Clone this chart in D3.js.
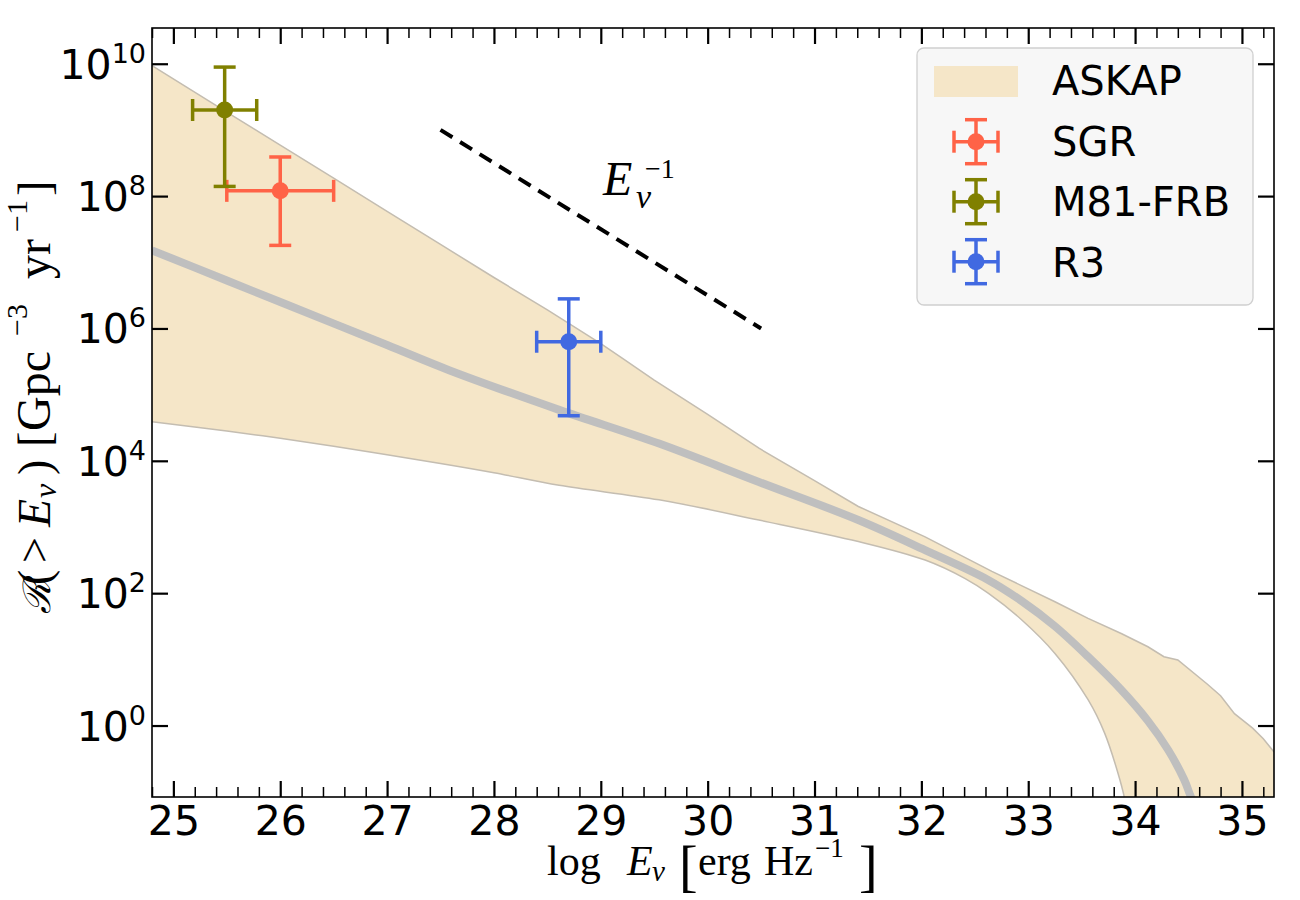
<!DOCTYPE html>
<html>
<head>
<meta charset="utf-8">
<script src="https://cdn.jsdelivr.net/npm/d3@7"></script>
<style>
  body { margin: 0; background: #fff; }
  text { fill: #000; }
</style>
</head>
<body>
<svg id="chart" width="1300" height="900"></svg>
<script>
// ASKAP band, [log E_nu, log10 R]
const upperEdge = [
  [24.8, 9.97], [25.5, 9.27], [26.0, 8.77], [26.5, 8.27], [27.0, 7.77], [27.5, 7.27],
  [28.0, 6.77], [28.5, 6.28], [29.0, 5.77], [29.2, 5.55], [29.5, 5.22], [30.0, 4.70],
  [30.48, 4.19], [31.0, 3.70], [31.41, 3.31], [32.035, 2.85], [32.66, 2.33], [33.25, 1.87],
  [33.56, 1.62], [33.87, 1.39], [34.12, 1.19], [34.27, 1.04], [34.40, 0.99], [34.68, 0.62],
  [34.8, 0.45], [34.93, 0.18], [35.1, -0.04], [35.2, -0.20], [35.3, -0.40]
];
const lowerEdge = [
  [24.8, 4.59], [25.5, 4.45], [26.0, 4.34], [26.5, 4.22], [27.0, 4.09], [27.5, 3.96],
  [28.0, 3.82], [28.61, 3.63], [29.545, 3.41], [30.48, 3.105], [31.41, 2.78], [32.035, 2.50],
  [32.41, 2.22], [32.625, 2.00], [32.94, 1.595], [33.25, 1.09], [33.56, 0.39],
  [33.715, -0.115], [33.84, -0.72], [33.90, -1.09], [33.93, -1.40]
];
// median curve
const medianCurve = [
  [24.8, 7.18], [25.5, 6.725], [26.03, 6.38], [27.0, 5.75], [27.58, 5.37], [28.61, 4.77],
  [29.545, 4.26], [30.48, 3.68], [31.41, 3.105], [32.035, 2.65], [32.625, 2.20],
  [32.94, 1.88], [33.25, 1.50], [33.56, 1.04], [33.87, 0.54], [34.12, 0.07],
  [34.31, -0.37], [34.46, -0.82], [34.52, -1.07], [34.58, -1.30]
];

// individual sources
const sourceNames = ['SGR', 'M81-FRB', 'R3'];
const sourceE = [26.0, 25.48, 28.7];
const sourceEerr = [0.5, 0.3, 0.3];
const sourceRate = [1.2e8, 2.0e9, 6.3e5];
const sourceRateLo = [1.8e7, 1.4e8, 4.8e4];
const sourceRateHi = [3.9e8, 8.9e9, 2.8e6];
const sourceColors = ['#ff6347', '#808000', '#4169e1'];

// E^-1 guide
const guideE = [27.5, 30.5];
const guideRate = [1e9, 1e6];

const xMajor = d3.range(25, 36);
const xMinor = d3.range(24.8, 35.3, 0.2).filter(v => Math.abs(v - Math.round(v)) > 0.05);
const yExponents = [0, 2, 4, 6, 8, 10];

const bandFill = '#f5e6c8';
const bandEdge = '#c4bdb1';

const plotL = 152, plotR = 1274, plotT = 28, plotB = 797;

const svg = d3.select('#chart');

const x = d3.scaleLinear().domain([24.8, 35.3]).range([plotL, plotR]);
const y = d3.scaleLog().domain([Math.pow(10, -1.08), Math.pow(10, 10.54)]).range([plotB, plotT]);

svg.append('defs').append('clipPath')
  .attr('id', 'plot-clip')
  .append('rect')
  .attr('x', plotL).attr('y', plotT)
  .attr('width', plotR - plotL).attr('height', plotB - plotT);

const plot = svg.append('g').attr('clip-path', 'url(#plot-clip)');

const px = d => x(d[0]);
const py = d => y(Math.pow(10, d[1]));
const straight = d3.line().x(px).y(py);
const smooth = d3.line().x(px).y(py).curve(d3.curveCatmullRom.alpha(0.5));

// band: upper edge forward, corner below the axis, lower edge back
const lastLow = lowerEdge[lowerEdge.length - 1];
const upperPath = straight(upperEdge.concat([[x.domain()[1], lastLow[1]]]));
const lowerBack = smooth(lowerEdge.slice().reverse()).replace(/^M/, 'L');

plot.append('path')
  .attr('d', upperPath + lowerBack + 'Z')
  .attr('fill', bandFill)
  .attr('stroke', 'none');

plot.append('path')
  .attr('d', straight(upperEdge))
  .attr('fill', 'none')
  .attr('stroke', bandEdge)
  .attr('stroke-width', 1.5);

plot.append('path')
  .attr('d', smooth(lowerEdge))
  .attr('fill', 'none')
  .attr('stroke', bandEdge)
  .attr('stroke-width', 1.5);

plot.append('path')
  .attr('d', smooth(medianCurve))
  .attr('fill', 'none')
  .attr('stroke', '#bfbfbf')
  .attr('stroke-width', 8);

// dashed guide
plot.append('line')
  .attr('x1', x(guideE[0])).attr('y1', y(guideRate[0]))
  .attr('x2', x(guideE[1])).attr('y2', y(guideRate[1]))
  .attr('stroke', '#000')
  .attr('stroke-width', 4)
  .attr('stroke-dasharray', '14,9');

// error bars
function errorBar(g, cx, cy, x0, x1, y0, y1, color) {
  const cap = 11, lw = 3.5;
  g.append('line').attr('x1', x0).attr('x2', x1).attr('y1', cy).attr('y2', cy)
    .attr('stroke', color).attr('stroke-width', lw);
  g.append('line').attr('x1', cx).attr('x2', cx).attr('y1', y0).attr('y2', y1)
    .attr('stroke', color).attr('stroke-width', lw);
  [x0, x1].forEach(xx => g.append('line')
    .attr('x1', xx).attr('x2', xx).attr('y1', cy - cap).attr('y2', cy + cap)
    .attr('stroke', color).attr('stroke-width', lw));
  [y0, y1].forEach(yy => g.append('line')
    .attr('x1', cx - cap).attr('x2', cx + cap).attr('y1', yy).attr('y2', yy)
    .attr('stroke', color).attr('stroke-width', lw));
  g.append('circle').attr('cx', cx).attr('cy', cy).attr('r', 8.5).attr('fill', color);
}

sourceNames.forEach((name, i) => {
  errorBar(plot,
    x(sourceE[i]), y(sourceRate[i]),
    x(sourceE[i] - sourceEerr[i]), x(sourceE[i] + sourceEerr[i]),
    y(sourceRateHi[i]), y(sourceRateLo[i]),
    sourceColors[i]);
});

const serif = '"Liberation Serif", "DejaVu Serif", serif';

// piecewise math text: [string, x, y, size, italic]
function mathText(parent, pieces, family) {
  const t = parent.append('text').attr('font-family', family);
  pieces.forEach(p => {
    t.append('tspan')
      .attr('x', p[1]).attr('y', p[2])
      .attr('font-size', p[3])
      .attr('font-style', p[4] ? 'italic' : 'normal')
      .text(p[0]);
  });
  return t;
}

// E^-1 label
mathText(svg, [
  ['E', 603, 195, 48, true],
  ['ν', 636, 208, 34, true],
  ['−1', 645, 178, 28, false]
], serif);

// ticks
const tickStyle = g => {
  g.select('.domain').remove();
  g.selectAll('.tick line').attr('stroke', '#000');
};

svg.append('g')
  .attr('transform', `translate(0,${plotB})`)
  .call(d3.axisBottom(x).tickValues(xMinor).tickSize(-10).tickFormat(''))
  .call(tickStyle)
  .selectAll('.tick line').attr('stroke-width', 1.5);

svg.append('g')
  .attr('transform', `translate(0,${plotT})`)
  .call(d3.axisTop(x).tickValues(xMinor).tickSize(-10).tickFormat(''))
  .call(tickStyle)
  .selectAll('.tick line').attr('stroke-width', 1.5);

const xAxis = svg.append('g')
  .attr('transform', `translate(0,${plotB})`)
  .call(d3.axisBottom(x).tickValues(xMajor).tickSize(-16).tickPadding(9).tickFormat(d3.format('d')))
  .call(tickStyle);
xAxis.selectAll('.tick line').attr('stroke-width', 2.2);
xAxis.selectAll('.tick text')
  .attr('font-family', '"DejaVu Sans", sans-serif')
  .attr('font-size', 41);

svg.append('g')
  .attr('transform', `translate(0,${plotT})`)
  .call(d3.axisTop(x).tickValues(xMajor).tickSize(-16).tickFormat(''))
  .call(tickStyle)
  .selectAll('.tick line').attr('stroke-width', 2.2);

const yVals = yExponents.map(e => Math.pow(10, e));

svg.append('g')
  .attr('transform', `translate(${plotL},0)`)
  .call(d3.axisLeft(y).tickValues(yVals).tickSize(-16).tickFormat(''))
  .call(tickStyle)
  .selectAll('.tick line').attr('stroke-width', 2.2);

svg.append('g')
  .attr('transform', `translate(${plotR},0)`)
  .call(d3.axisRight(y).tickValues(yVals).tickSize(-16).tickFormat(''))
  .call(tickStyle)
  .selectAll('.tick line').attr('stroke-width', 2.2);

yExponents.forEach(e => {
  const t = svg.append('text')
    .attr('x', 146).attr('y', y(Math.pow(10, e)) + 15)
    .attr('text-anchor', 'end')
    .attr('font-family', '"DejaVu Sans", sans-serif')
    .attr('font-size', 41);
  t.append('tspan').text('10');
  t.append('tspan').attr('font-size', 27).attr('dy', -16).text(e);
});

// frame
svg.append('rect')
  .attr('x', plotL).attr('y', plotT)
  .attr('width', plotR - plotL).attr('height', plotB - plotT)
  .attr('fill', 'none').attr('stroke', '#000').attr('stroke-width', 1.6);

// x label
mathText(svg, [
  ['log', 547, 875, 42, false],
  ['E', 627, 875, 42, true],
  ['ν', 652, 881, 29, true],
  ['[', 679, 885, 56, false],
  ['erg', 698, 875, 42, false],
  ['Hz', 764, 875, 42, false],
  ['−1', 815, 857, 27, false],
  [']', 859, 885, 56, false]
], serif);

// y label, laid out along the rotated axis
const yl = mathText(svg, [
  ['ℛ', -614, 50, 38, true],
  ['(', -585, 50, 46, false],
  ['>', -563, 50, 46, false],
  ['E', -527, 50, 46, true],
  ['ν', -498, 56, 32, true],
  [')', -475, 50, 46, false],
  ['[', -447, 50, 46, false],
  ['Gpc', -431, 50, 48, false],
  ['−3', -336, 27, 30, false],
  ['yr', -279, 50, 48, false],
  ['−1', -232, 27, 30, false],
  [']', -196, 50, 46, false]
], serif).attr('transform', 'rotate(-90)');
yl.select('tspan').attr('font-family', '"DejaVu Serif", serif');

// legend
const legend = svg.append('g');
legend.append('rect')
  .attr('x', 917).attr('y', 48)
  .attr('width', 336).attr('height', 257)
  .attr('rx', 7)
  .attr('fill', '#f7f7f7')
  .attr('stroke', '#d0d0d0')
  .attr('stroke-width', 1.3);

legend.append('rect')
  .attr('x', 934).attr('y', 66)
  .attr('width', 84).attr('height', 31)
  .attr('fill', bandFill);

const legendNames = ['ASKAP'].concat(sourceNames);
legendNames.forEach((name, i) => {
  legend.append('text')
    .attr('x', 1052).attr('y', 95 + i * 60.5)
    .attr('font-family', '"DejaVu Sans", sans-serif')
    .attr('font-size', 40)
    .text(name);
});

sourceNames.forEach((name, i) => {
  const cy = 141.7 + i * 60;
  errorBar(legend, 976, cy, 954, 998, cy - 22, cy + 22, sourceColors[i]);
});
</script>
</body>
</html>
